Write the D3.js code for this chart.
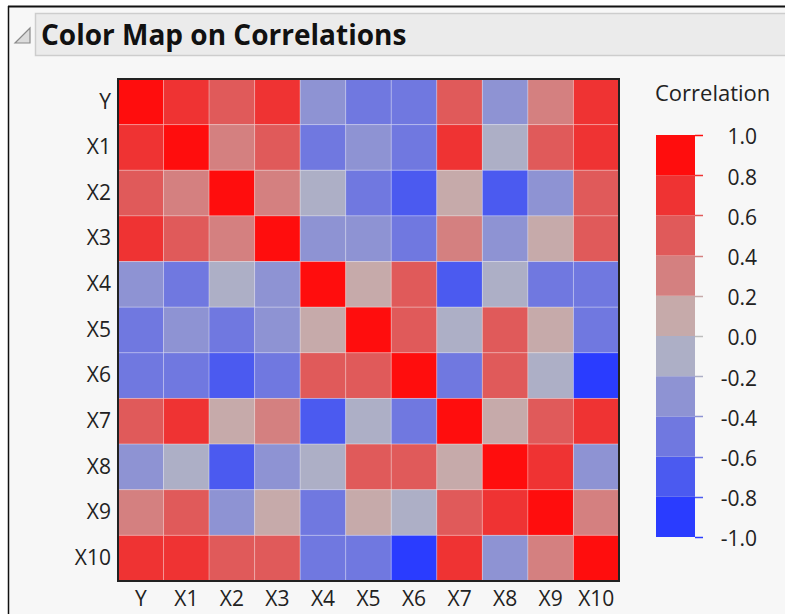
<!DOCTYPE html>
<html>
<head>
<meta charset="utf-8">
<script src="https://cdn.jsdelivr.net/npm/d3@7"></script>
<style>
body { margin: 0; background: #fff; }
text { font-family: "Open Sans", "Noto Sans", sans-serif; }
</style>
</head>
<body>
<div id="chart"></div>
<script>
(function() {
var W = 785, H = 614;

// variable names (rows and columns)
var vars = ["Y","X1","X2","X3","X4","X5","X6","X7","X8","X9","X10"];

// correlation matrix (binned colours, so values are estimates)
var corr = [
  [ 1.0,  0.7,  0.5,  0.7, -0.3, -0.5, -0.5,  0.5, -0.3,  0.3,  0.7],
  [ 0.7,  1.0,  0.3,  0.5, -0.5, -0.3, -0.5,  0.7, -0.1,  0.5,  0.7],
  [ 0.5,  0.3,  1.0,  0.3, -0.1, -0.5, -0.7,  0.1, -0.7, -0.3,  0.5],
  [ 0.7,  0.5,  0.3,  1.0, -0.3, -0.3, -0.5,  0.3, -0.3,  0.1,  0.5],
  [-0.3, -0.5, -0.1, -0.3,  1.0,  0.1,  0.5, -0.7, -0.1, -0.5, -0.5],
  [-0.5, -0.3, -0.5, -0.3,  0.1,  1.0,  0.5, -0.1,  0.5,  0.1, -0.5],
  [-0.5, -0.5, -0.7, -0.5,  0.5,  0.5,  1.0, -0.5,  0.5, -0.1, -0.9],
  [ 0.5,  0.7,  0.1,  0.3, -0.7, -0.1, -0.5,  1.0,  0.1,  0.5,  0.7],
  [-0.3, -0.1, -0.7, -0.3, -0.1,  0.5,  0.5,  0.1,  1.0,  0.7, -0.3],
  [ 0.3,  0.5, -0.3,  0.1, -0.5,  0.1, -0.1,  0.5,  0.7,  1.0,  0.3],
  [ 0.7,  0.7,  0.5,  0.5, -0.5, -0.5, -0.9,  0.7, -0.3,  0.3,  1.0]
];

// legend ticks and the 10 colour bins (from -1 up to 1)
var legendTicks = [1.0, 0.8, 0.6, 0.4, 0.2, 0.0, -0.2, -0.4, -0.6, -0.8, -1.0];
var binEdges = [-0.8, -0.6, -0.4, -0.2, 0, 0.2, 0.4, 0.6, 0.8];
var binColors = ["#2a3cff","#4b5af0","#7078e0","#8e93d3","#adafc6",
                 "#c6aaaa","#d48080","#e05a5a","#ef3333","#ff0d0d"];

var color = d3.scaleThreshold().domain(binEdges).range(binColors);
var labelSize = "21px";

var svg = d3.select("#chart").append("svg")
  .attr("width", W).attr("height", H);

// panel background + outline
svg.append("rect").attr("x", 8).attr("y", 6).attr("width", W).attr("height", H)
  .style("fill", "#f7f7f7");
svg.append("line").attr("x1", 8).attr("x2", W).attr("y1", 6.5).attr("y2", 6.5)
  .style("stroke", "#111").style("stroke-width", 2);
svg.append("line").attr("x1", 8.5).attr("x2", 8.5).attr("y1", 6).attr("y2", H)
  .style("stroke", "#111").style("stroke-width", 1.5);

// header bar
svg.append("rect").attr("x", 35.5).attr("y", 13.5).attr("width", W).attr("height", 42)
  .style("fill", "#ebebeb").style("stroke", "#cdcdcd").style("stroke-width", 1.5);
svg.append("path").attr("d", "M15,43 L30,43 L30,28 Z")
  .style("fill", "#dcdcdc").style("stroke", "#8a8a8a").style("stroke-width", 1.2);
svg.append("text").attr("x", 41).attr("y", 45)
  .style("font-size", "28px").style("font-weight", "bold").style("fill", "#111")
  .text("Color Map on Correlations");

// heat map
var plot = {x: 118, y: 79, w: 501, h: 502};
var x = d3.scaleBand().domain(vars).range([plot.x, plot.x + plot.w]);
var y = d3.scaleBand().domain(vars).range([plot.y, plot.y + plot.h]);

var cells = [];
corr.forEach(function(row, i) {
  row.forEach(function(v, j) { cells.push({r: vars[i], c: vars[j], v: v}); });
});

svg.append("g").selectAll("rect").data(cells)
  .enter().append("rect")
  .attr("x", function(d) { return x(d.c); })
  .attr("y", function(d) { return y(d.r); })
  .attr("width", x.bandwidth())
  .attr("height", y.bandwidth())
  .style("fill", function(d) { return color(d.v); })
  .style("stroke", "rgba(255,255,255,0.25)")
  .style("stroke-width", 1);

svg.append("rect").attr("x", plot.x).attr("y", plot.y)
  .attr("width", plot.w).attr("height", plot.h)
  .style("fill", "none").style("stroke", "#222").style("stroke-width", 2);

var yAxis = svg.append("g").attr("transform", "translate(" + plot.x + ",0)")
  .call(d3.axisLeft(y).tickSize(0).tickPadding(7));
var xAxis = svg.append("g").attr("transform", "translate(0," + (plot.y + plot.h) + ")")
  .call(d3.axisBottom(x).tickSize(0).tickPadding(10));
[xAxis, yAxis].forEach(function(a) {
  a.select(".domain").remove();
  a.selectAll("text").style("font-size", labelSize).style("fill", "#222")
    .style("font-family", "'Open Sans', 'Noto Sans', sans-serif");
});

// legend
var leg = {x: 656, y: 135, w: 39, h: 402};
var ly = d3.scaleLinear().domain([1, -1]).range([leg.y, leg.y + leg.h]);
var bins = binColors.map(function(c, i) { return {lo: -1 + i * 0.2, hi: -0.8 + i * 0.2, c: c}; });

svg.append("text").attr("x", 655).attr("y", 101)
  .style("font-size", "22px").style("fill", "#222").text("Correlation");

svg.append("g").selectAll("rect").data(bins)
  .enter().append("rect")
  .attr("x", leg.x)
  .attr("y", function(d) { return ly(d.hi); })
  .attr("width", leg.w)
  .attr("height", function(d) { return ly(d.lo) - ly(d.hi); })
  .style("fill", function(d) { return d.c; });

var lt = svg.append("g").selectAll("g").data(legendTicks).enter().append("g");
lt.append("line")
  .attr("x1", leg.x + leg.w).attr("x2", leg.x + leg.w + 8)
  .attr("y1", function(d) { return Math.round(ly(d)) + 0.5; })
  .attr("y2", function(d) { return Math.round(ly(d)) + 0.5; })
  .style("stroke", function(d) {
    if (Math.abs(d) < 1e-9) return "#bdbdbd";
    return color(d > 0 ? d - 0.01 : d + 0.01);
  })
  .style("stroke-width", 1.5);
lt.append("text")
  .attr("x", 757)
  .attr("y", function(d) { return ly(d) + 2; })
  .attr("dy", "0.35em")
  .attr("text-anchor", "end")
  .style("font-size", labelSize).style("fill", "#222")
  .text(function(d) { return d3.format(".1f")(d).replace("\u2212", "-"); });
})();
</script>
</body>
</html>
